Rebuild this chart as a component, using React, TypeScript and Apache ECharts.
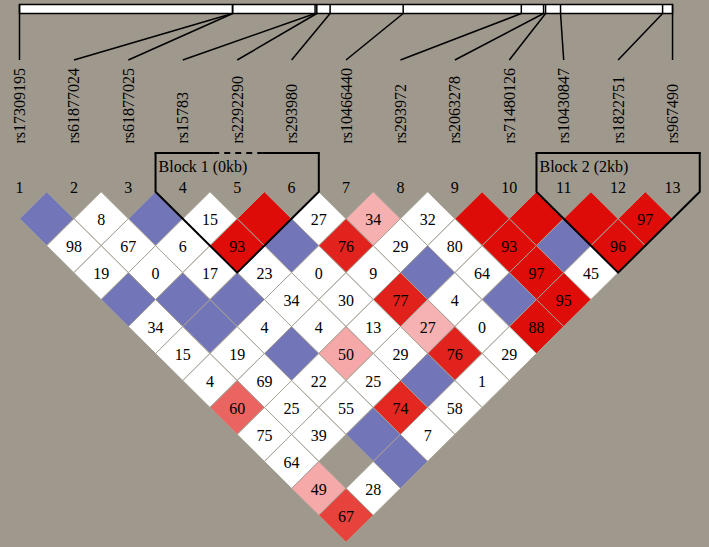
import React, { useEffect, useRef } from "react";
import * as echarts from "echarts";

// ---------------- DATA ----------------
const snpNames = [
  "rs17309195", "rs61877024", "rs61877025", "rs15783", "rs2292290", "rs293980",
  "rs10466440", "rs293972", "rs2063278", "rs71480126", "rs10430847", "rs1822751", "rs967490",
];
// relative physical positions (bp) along the marker map
const snpPositionsBp = [0, 3812, 3816, 5291, 5322, 5560, 6868, 8983, 9381, 9417, 9685, 11512, 11690];

// D' x100, row k = pairs (i, i+k); 100 = D' of 1 (no number drawn); null = no value
const dPrime: (number | null)[][] = [
  [100, 8, 100, 15, 100, 27, 34, 32, 100, 100, 100, 97],
  [98, 67, 6, 93, 100, 76, 29, 80, 93, 100, 96],
  [19, 0, 17, 23, 0, 9, 100, 64, 97, 45],
  [100, 100, 100, 34, 30, 77, 4, 100, 95],
  [34, 100, 4, 4, 13, 27, 0, 88],
  [15, 19, 100, 50, 29, 76, 29],
  [4, 69, 22, 25, 100, 1],
  [60, 25, 55, 74, 58],
  [75, 39, 100, 7],
  [64, null, 100],
  [49, 28],
  [67],
];
// LOD >= 2 flags, same layout as dPrime
const lodStrong: number[][] = [
  [0, 0, 0, 0, 1, 0, 1, 0, 1, 1, 1, 1],
  [0, 0, 0, 1, 0, 1, 0, 0, 1, 0, 1],
  [0, 0, 0, 0, 0, 0, 0, 0, 1, 0],
  [0, 0, 0, 0, 0, 1, 0, 0, 1],
  [0, 0, 0, 0, 0, 1, 0, 1],
  [0, 0, 0, 1, 0, 1, 0],
  [0, 0, 0, 0, 0, 0],
  [1, 0, 0, 1, 0],
  [0, 0, 0, 0],
  [0, 0, 0],
  [1, 0],
  [1],
];
const blockLabels = ["Block 1 (0kb)", "Block 2 (2kb)"];
const blockFirst = [4, 11];
const blockLast = [6, 13];
const blockDashedMarker = [5, 0];

// ---------------- LAYOUT / STYLE ----------------
const W = 709;
const H = 547;
const FIRST_PX = 19.5;
const STEP_PX = 54.42;
const ROW1_PX = 218.7;
const ROW_PX = 26.97;
const BAR_TOP = 4.5;
const BAR_BOTTOM = 13.5;
const CONNECT_Y = 60;
const LABEL_BOTTOM = 143.5;
const NUMBER_Y = 187;
const BLOCK_TOP = 153;
const FONT = '16px "Liberation Serif", "DejaVu Serif", serif';
const BG = "#9f998d";
const BLUE = "#7276b8";
const WHITE = "#ffffff";
const GRID_LINE = "#a7a195";

const redStops: [number, number[]][] = [
  [0.3, [246, 178, 178]],
  [0.5, [246, 168, 168]],
  [0.6, [234, 100, 98]],
  [0.67, [232, 66, 60]],
  [0.75, [226, 36, 30]],
  [0.88, [222, 14, 10]],
  [1.0, [222, 12, 8]],
];
function cellColor(d: number, strong: number): string {
  if (!strong) return d === 100 ? BLUE : WHITE;
  const t = d / 100;
  let c = redStops[0][1];
  if (t >= redStops[redStops.length - 1][0]) c = redStops[redStops.length - 1][1];
  else {
    for (let k = 0; k < redStops.length - 1; k++) {
      const [a, ca] = redStops[k];
      const [b, cb] = redStops[k + 1];
      if (t >= a && t <= b) {
        const f = (t - a) / (b - a);
        c = ca.map((v, j) => Math.round(v + (cb[j] - v) * f));
        break;
      }
    }
  }
  return `rgb(${c[0]},${c[1]},${c[2]})`;
}

const nSnp = snpNames.length;
const bpMin = snpPositionsBp[0];
const bpMax = snpPositionsBp[nSnp - 1];
const bpToUnit = (bp: number) => 1 + ((bp - bpMin) / (bpMax - bpMin)) * (nSnp - 1);

export default function App() {
  const ref = useRef<HTMLDivElement>(null);
  useEffect(() => {
    if (!ref.current) return;
    const chart = echarts.init(ref.current, undefined, { renderer: "svg" });

    const cells: any[] = [];
    dPrime.forEach((row, k) => {
      row.forEach((d, idx) => {
        if (d === null) return;
        const i = idx + 1;
        const j = i + k + 1;
        cells.push([(i + j) / 2, k + 1, d, lodStrong[k][idx]]);
      });
    });
    const snpData = snpNames.map((_, k) => [k + 1, snpPositionsBp[k]]);
    const blockData = blockLabels.map((_, b) => [blockFirst[b], blockLast[b], blockDashedMarker[b], b]);

    const xMin = 1 - FIRST_PX / STEP_PX;
    const xMax = 1 + (W - FIRST_PX) / STEP_PX;
    const yMin = 1 - ROW1_PX / ROW_PX;
    const yMax = 1 + (H - ROW1_PX) / ROW_PX;

    const option: any = {
      animation: false,
      backgroundColor: BG,
      grid: { left: 0, right: 0, top: 0, bottom: 0 },
      xAxis: { type: "value", min: xMin, max: xMax, show: false },
      yAxis: { type: "value", min: yMin, max: yMax, inverse: true, show: false },
      series: [
        {
          type: "custom",
          name: "map",
          z: 1,
          data: [[1, nSnp]],
          renderItem: (params: any, api: any) => {
            const x0 = api.coord([bpToUnit(bpMin), 0])[0];
            const x1 = api.coord([bpToUnit(bpMax), 0])[0];
            return {
              type: "rect",
              shape: { x: x0, y: BAR_TOP, width: x1 - x0, height: BAR_BOTTOM - BAR_TOP },
              style: { fill: "#fff", stroke: "#000", lineWidth: 1.5 },
            };
          },
        },
        {
          type: "custom",
          name: "markers",
          z: 2,
          data: snpData,
          renderItem: (params: any, api: any) => {
            const k = api.value(0);
            const bp = api.value(1);
            const mx = api.coord([bpToUnit(bp), 0])[0];
            const lx = api.coord([k, 0])[0];
            return {
              type: "group",
              children: [
                { type: "line", shape: { x1: mx, y1: BAR_TOP, x2: mx, y2: BAR_BOTTOM }, style: { stroke: "#000", lineWidth: 1.5 } },
                { type: "line", shape: { x1: mx, y1: BAR_BOTTOM, x2: lx, y2: CONNECT_Y }, style: { stroke: "#000", lineWidth: 1.5 } },
                {
                  type: "text",
                  x: lx,
                  y: LABEL_BOTTOM,
                  rotation: Math.PI / 2,
                  style: { text: snpNames[k - 1], font: FONT, fill: "#000", align: "left", verticalAlign: "middle" },
                },
                {
                  type: "text",
                  x: lx,
                  y: NUMBER_Y,
                  style: { text: String(k), font: FONT, fill: "#000", align: "center", verticalAlign: "middle" },
                },
              ],
            };
          },
        },
        {
          type: "custom",
          name: "ld",
          z: 3,
          data: cells,
          renderItem: (params: any, api: any) => {
            const x = api.value(0);
            const r = api.value(1);
            const d = api.value(2);
            const s = api.value(3);
            const c = api.coord([x, r]);
            const [hw, hh] = api.size([0.5, 1]);
            const children: any[] = [
              {
                type: "polygon",
                shape: { points: [[c[0], c[1] - hh], [c[0] + hw, c[1]], [c[0], c[1] + hh], [c[0] - hw, c[1]]] },
                style: { fill: cellColor(d, s), stroke: GRID_LINE, lineWidth: 1 },
              },
            ];
            if (d !== 100) {
              children.push({
                type: "text",
                x: c[0],
                y: c[1] + 1,
                style: { text: String(d), font: FONT, fill: "#000", align: "center", verticalAlign: "middle" },
              });
            }
            return { type: "group", children };
          },
        },
        {
          type: "custom",
          name: "blocks",
          z: 4,
          data: blockData,
          renderItem: (params: any, api: any) => {
            const f = api.value(0);
            const l = api.value(1);
            const dm = api.value(2);
            const b = api.value(3);
            const left = api.coord([f - 0.5, 0])[0];
            const right = api.coord([l + 0.5, 0])[0];
            const topRow = api.coord([0, 0])[1];
            const apex = api.coord([(f + l) / 2, l - f + 1]);
            const st = { stroke: "#000", lineWidth: 2, fill: null };
            const children: any[] = [
              {
                type: "polyline",
                shape: { points: [[left, BLOCK_TOP], [left, topRow], apex, [right, topRow], [right, BLOCK_TOP]] },
                style: st,
              },
            ];
            if (dm > 0) {
              const d0 = api.coord([dm - 0.44, 0])[0];
              const d1 = api.coord([dm + 0.47, 0])[0];
              children.push(
                { type: "line", shape: { x1: left - 1, y1: BLOCK_TOP, x2: d0, y2: BLOCK_TOP }, style: st },
                { type: "line", shape: { x1: d0, y1: BLOCK_TOP, x2: d1, y2: BLOCK_TOP }, style: { ...st, lineDash: [6, 5] } },
                { type: "line", shape: { x1: d1, y1: BLOCK_TOP, x2: right + 1, y2: BLOCK_TOP }, style: st }
              );
            } else {
              children.push({ type: "line", shape: { x1: left - 1, y1: BLOCK_TOP, x2: right + 1, y2: BLOCK_TOP }, style: st });
            }
            children.push({
              type: "text",
              x: left + 3,
              y: 166,
              style: { text: blockLabels[b], font: FONT, fill: "#000", align: "left", verticalAlign: "middle" },
            });
            return { type: "group", children };
          },
        },
      ],
    };
    chart.setOption(option);
    return () => chart.dispose();
  }, []);
  return <div ref={ref} style={{ position: "absolute", left: 0, top: 0, width: W, height: H }} />;
}
